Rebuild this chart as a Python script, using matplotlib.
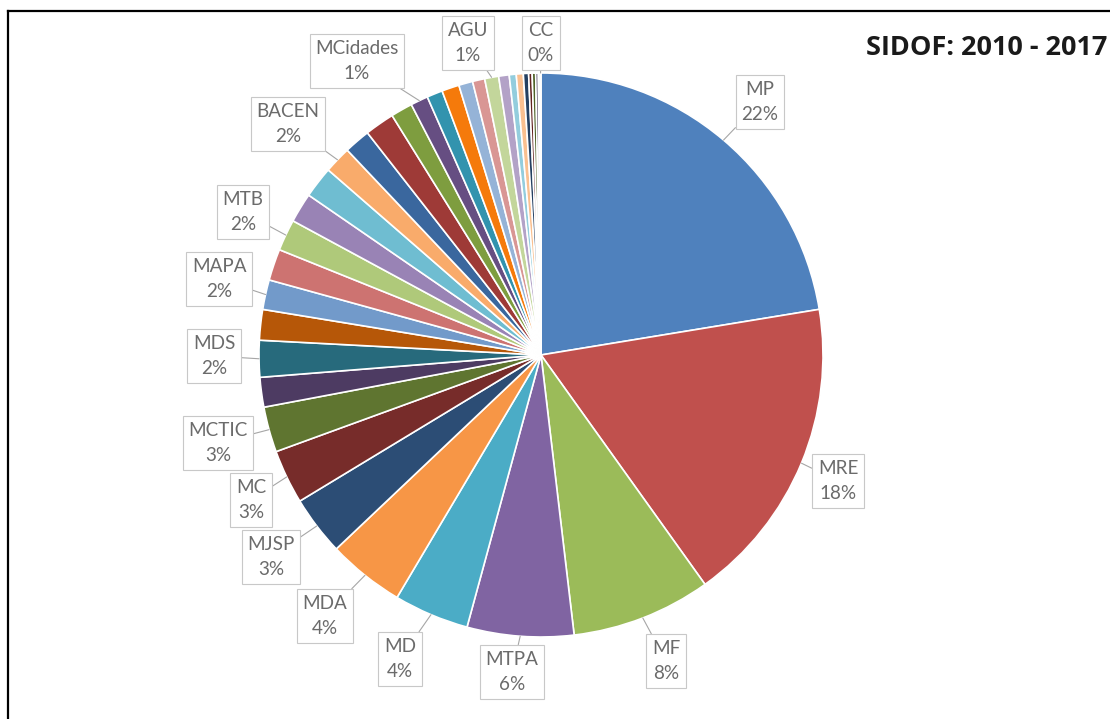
import matplotlib.pyplot as plt
from matplotlib.lines import Line2D
import numpy as np

# orgaos (fatias em ordem horaria a partir do topo); '' = fatia sem rotulo
names = ['MP', 'MRE', 'MF', 'MTPA', 'MD', 'MDA', 'MJSP', 'MC', 'MCTIC', '',
         'MDS', '', 'MAPA', '', 'MTB', '', '', 'BACEN', '', '',
         '', 'MCidades', '', '', '', '', 'AGU', '', '', '',
         '', '', '', '', '', 'CC']
# participacao estimada (%)
values = [22.4, 17.7, 8.0, 6.1, 4.3, 4.4, 3.4, 3.1, 2.6, 1.7,
          2.1, 1.75, 1.7, 1.8, 1.8, 1.7, 1.8, 1.55, 1.5, 1.7,
          1.25, 1.0, 0.9, 1.0, 0.8, 0.7, 0.8, 0.6, 0.4, 0.4,
          0.3, 0.2, 0.2, 0.15, 0.1, 0.05]
# paleta padrao do Excel (base, escura, clara, ...)
colors = ['#4F81BD', '#C0504D', '#9BBB59', '#8064A2', '#4BACC6', '#F79646',
          '#2C4D75', '#772C2A', '#5F7530', '#4D3B62', '#276A7C', '#B65708',
          '#729ACA', '#CD7371', '#AFC97A', '#9983B5', '#6FBDD1', '#F9AB6B',
          '#3A679E', '#9E3A37', '#7E9D3F', '#664E82', '#3293AE', '#F57A0B',
          '#95B3D7', '#D99694', '#C3D69B', '#B3A2C7', '#93CDDD', '#FAC090',
          '#254061', '#632523', '#4F6228', '#3F3151', '#205867', '#974806']

# posicao dos rotulos (pixels, y para baixo)
label_pos = {'MP': (760, 102), 'MRE': (838, 481), 'MF': (666, 661),
             'MTPA': (512, 672), 'MD': (400, 659), 'MDA': (325, 616),
             'MJSP': (271, 557), 'MC': (251, 500), 'MCTIC': (218, 443),
             'MDS': (214, 356), 'MAPA': (219, 279), 'MTB': (243, 212),
             'BACEN': (288, 124), 'MCidades': (357, 61), 'AGU': (468, 43),
             'CC': (541, 43)}

W, H = 1110, 719
fig = plt.figure(figsize=(W / 100, H / 100), dpi=100)
ax = fig.add_axes([0, 0, 1, 1])

cx, cy, r = 541, H - 355, 282
wedges, _ = ax.pie(values, colors=colors, startangle=90, counterclock=False,
                   center=(cx, cy), radius=r, frame=True,
                   wedgeprops=dict(edgecolor='white', linewidth=1.2))
ax.set_xlim(0, W)
ax.set_ylim(0, H)
ax.set_aspect('equal')
ax.axis('off')

total = sum(values)
for w, name, v in zip(wedges, names, values):
    if not name:
        continue
    pct = int(v / total * 100 + 0.5)
    ang = np.deg2rad((w.theta1 + w.theta2) / 2)
    px, py = cx + r * np.cos(ang), cy + r * np.sin(ang)
    lx, ly = label_pos[name]
    ax.annotate(f'{name}\n{pct}%', xy=(px, py), xytext=(lx, H - ly),
                ha='center', va='center', fontsize=13.6, family='Lato',
                color='#6B6B6B', linespacing=1.6,
                bbox=dict(boxstyle='square,pad=0.3', fc='white',
                          ec='#C8C8C8', lw=0.8),
                arrowprops=dict(arrowstyle='-', color='#A6A6A6', lw=0.8,
                                shrinkA=0, shrinkB=0))

fig.text(866 / W, 1 - 48 / H, 'SIDOF: 2010 - 2017', ha='left', va='center',
         fontsize=19.5, fontweight='bold', family='Open Sans', color='#1A1A1A')

# moldura
fig.add_artist(Line2D([8 / W, 8 / W], [0, 1 - 11 / H], color='black', lw=1.6))
fig.add_artist(Line2D([8 / W, 1], [1 - 11 / H, 1 - 11 / H], color='black', lw=1.6))

fig.savefig('out.png', dpi=100)
